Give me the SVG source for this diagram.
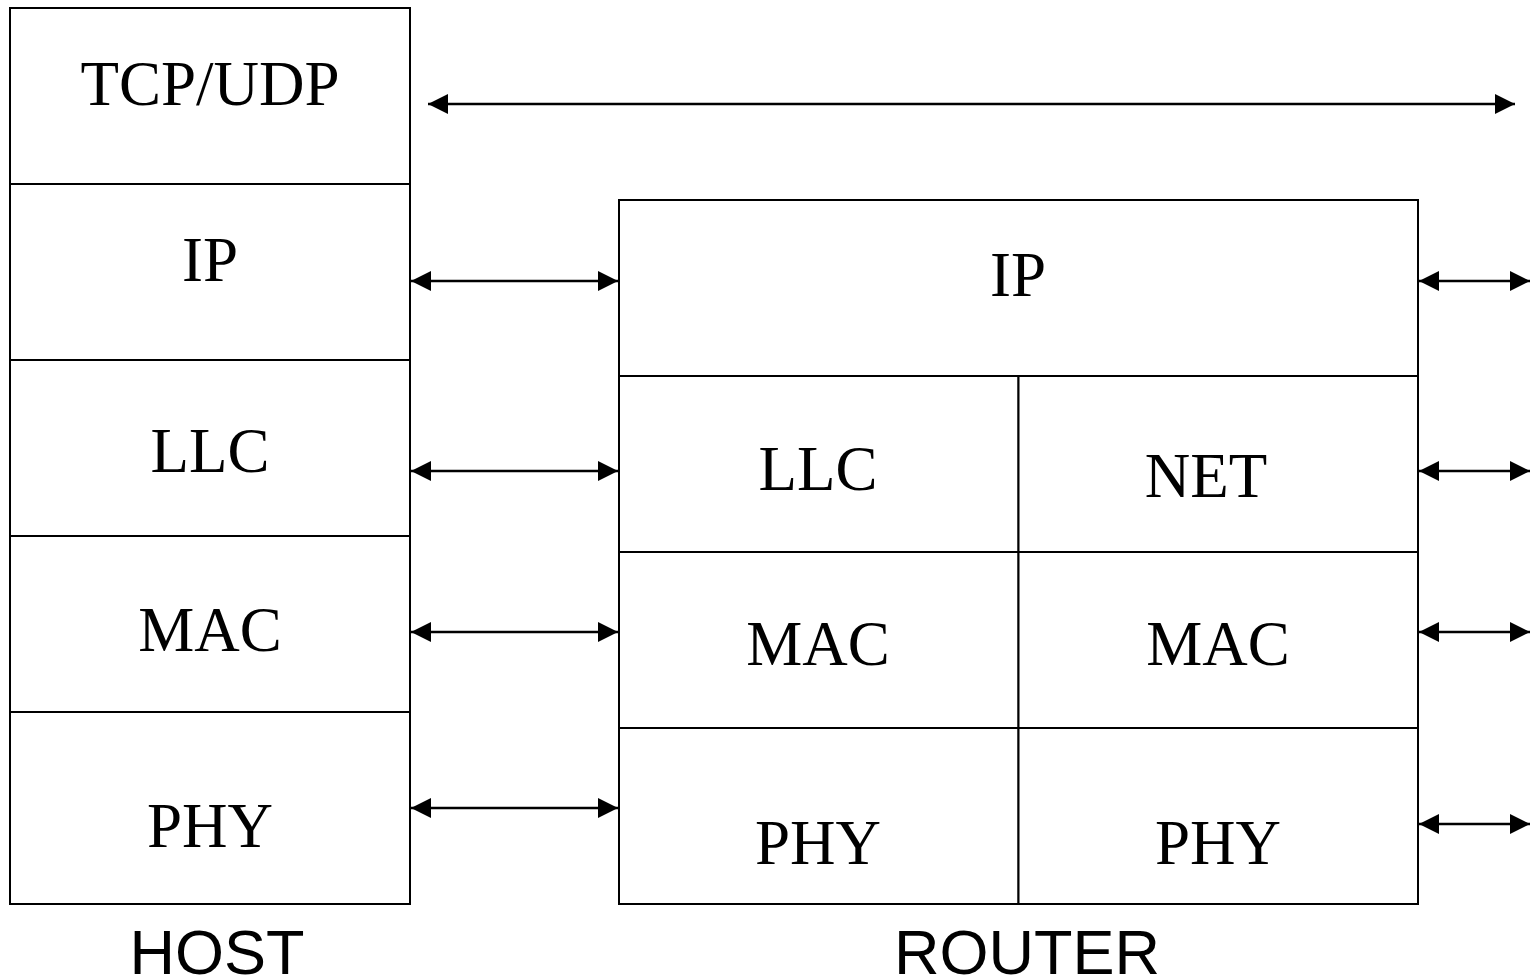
<svg xmlns="http://www.w3.org/2000/svg" width="1537" height="980" viewBox="0 0 1537 980">
  <style>
    .box { fill: #ffffff; stroke: #000000; stroke-width: 2; }
    .lbl { font-family: "Liberation Serif", "Times New Roman", serif; font-size: 63px; fill: #000000; text-anchor: middle; }
    .cap { font-family: "Liberation Sans", Arial, sans-serif; font-size: 63px; fill: #000000; text-anchor: middle; }
    .link { stroke: #000000; stroke-width: 2.5; fill: none; marker-start: url(#head); marker-end: url(#head); }
  </style>
  <defs>
    <marker id="head" viewBox="0 0 20 20" refX="20" refY="10" markerWidth="20" markerHeight="20" markerUnits="userSpaceOnUse" orient="auto-start-reverse">
      <path d="M0,0 L20,10 L0,20 Z" fill="#000000"/>
    </marker>
  </defs>
  <rect width="1537" height="980" fill="#ffffff"/>

  <!-- host protocol stack -->
  <g id="host">
    <g id="host-tcpudp">
      <rect class="box" x="10" y="8" width="400" height="176"/>
      <text class="lbl" x="210" y="105">TCP/UDP</text>
    </g>
    <g id="host-ip">
      <rect class="box" x="10" y="184" width="400" height="176"/>
      <text class="lbl" x="210" y="281">IP</text>
    </g>
    <g id="host-llc">
      <rect class="box" x="10" y="360" width="400" height="176"/>
      <text class="lbl" x="210" y="472">LLC</text>
    </g>
    <g id="host-mac">
      <rect class="box" x="10" y="536" width="400" height="176"/>
      <text class="lbl" x="210" y="651">MAC</text>
    </g>
    <g id="host-phy">
      <rect class="box" x="10" y="712" width="400" height="192"/>
      <text class="lbl" x="210" y="847">PHY</text>
    </g>
    <text class="cap" x="217" y="974">HOST</text>
  </g>

  <!-- router protocol stack -->
  <g id="router">
    <g id="router-ip">
      <rect class="box" x="619" y="200" width="799" height="176"/>
      <text class="lbl" x="1018" y="296">IP</text>
    </g>
    <g id="router-llc">
      <rect class="box" x="619" y="376" width="399.5" height="176"/>
      <text class="lbl" x="818" y="490">LLC</text>
    </g>
    <g id="router-net">
      <rect class="box" x="1018.5" y="376" width="399.5" height="176"/>
      <text class="lbl" x="1206" y="497">NET</text>
    </g>
    <g id="router-mac-a">
      <rect class="box" x="619" y="552" width="399.5" height="176"/>
      <text class="lbl" x="818" y="665">MAC</text>
    </g>
    <g id="router-mac-b">
      <rect class="box" x="1018.5" y="552" width="399.5" height="176"/>
      <text class="lbl" x="1218" y="665">MAC</text>
    </g>
    <g id="router-phy-a">
      <rect class="box" x="619" y="728" width="399.5" height="176"/>
      <text class="lbl" x="818" y="864">PHY</text>
    </g>
    <g id="router-phy-b">
      <rect class="box" x="1018.5" y="728" width="399.5" height="176"/>
      <text class="lbl" x="1218" y="864">PHY</text>
    </g>
    <text class="cap" x="1027" y="974">ROUTER</text>
  </g>

  <!-- peer links between layers -->
  <g id="connectors">
    <line class="link" x1="428" y1="104" x2="1515" y2="104"/>
    <line class="link" x1="411" y1="281" x2="618" y2="281"/>
    <line class="link" x1="411" y1="471" x2="618" y2="471"/>
    <line class="link" x1="411" y1="632" x2="618" y2="632"/>
    <line class="link" x1="411" y1="808" x2="618" y2="808"/>
    <line class="link" x1="1419" y1="281" x2="1530" y2="281"/>
    <line class="link" x1="1419" y1="471" x2="1530" y2="471"/>
    <line class="link" x1="1419" y1="632" x2="1530" y2="632"/>
    <line class="link" x1="1419" y1="824" x2="1530" y2="824"/>
  </g>
</svg>
